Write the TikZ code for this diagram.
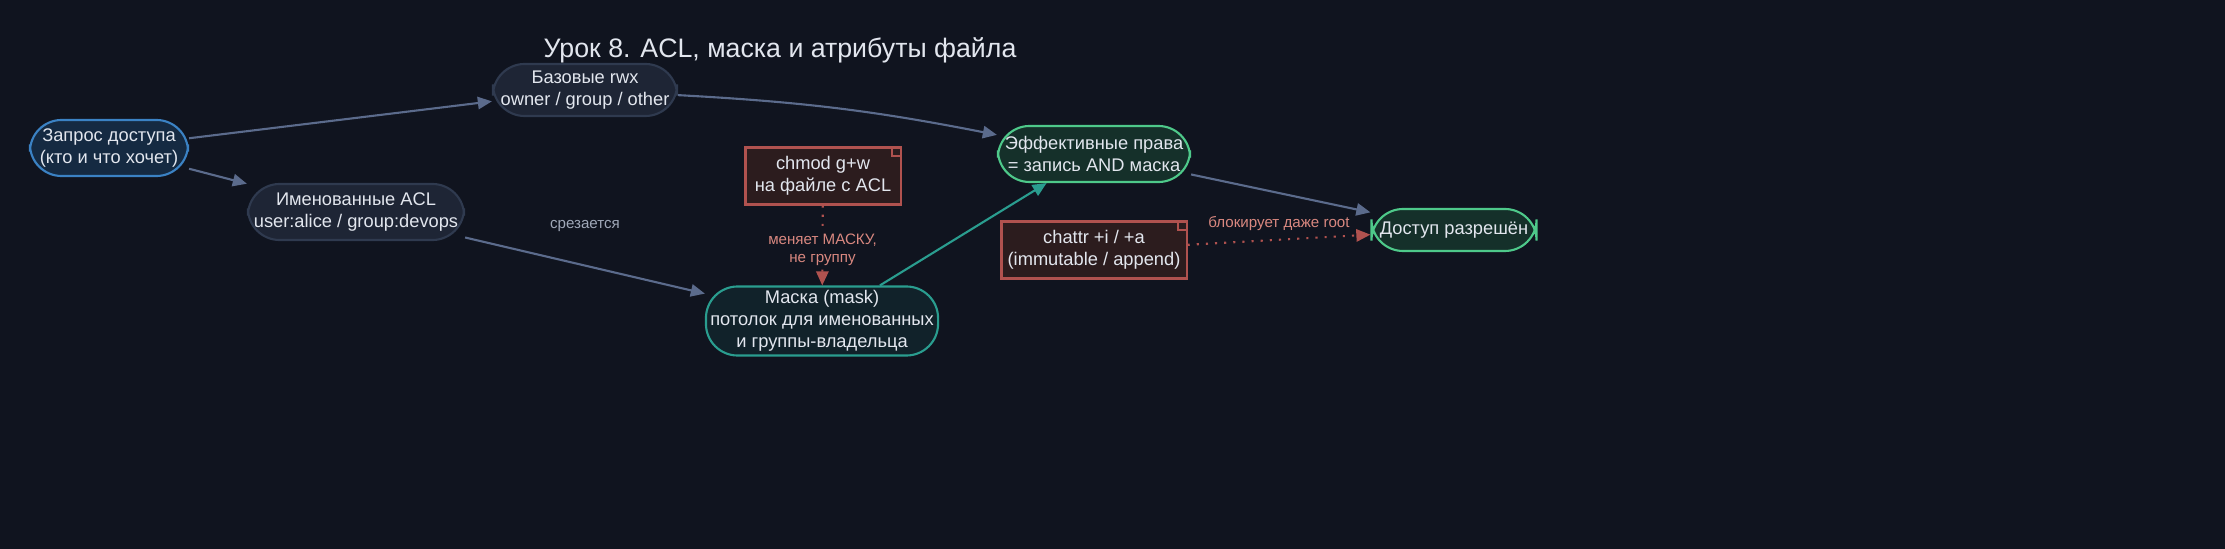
\documentclass[tikz,border=0pt]{standalone}
\usepackage{fontspec}
\setmainfont{Liberation Sans}
\usetikzlibrary{arrows.meta}
\definecolor{bgc}{HTML}{10141F}
\definecolor{edgec}{HTML}{5B6B8C}
\definecolor{txtc}{HTML}{E2E6EE}
\definecolor{redc}{HTML}{B0524F}
\definecolor{redt}{HTML}{D98880}
\definecolor{tealc}{HTML}{2A9D8F}
\definecolor{reqfill}{HTML}{152A42}
\definecolor{reqline}{HTML}{3B82C4}
\definecolor{grayfill}{HTML}{1E2535}
\definecolor{grayline}{HTML}{2F3A4F}
\definecolor{maskfill}{HTML}{11222A}
\definecolor{greenfill}{HTML}{15302A}
\definecolor{greenline}{HTML}{4EC98A}
\definecolor{notefill}{HTML}{2C1C1E}
\definecolor{lblgray}{HTML}{A0A8B8}
\tikzset{
  box/.style={draw, rounded corners=9pt, line width=0.6pt, align=center,
    text=txtc, font=\fontsize{5.2}{6.3}\selectfont, inner sep=0pt},
  notebox/.style={draw=redc, fill=notefill, line width=0.6pt, align=center,
    text=txtc, font=\fontsize{5.2}{6.3}\selectfont, inner sep=0pt},
  flow/.style={draw=edgec, line width=0.6pt, -{Triangle[length=4pt,width=3.5pt]}},
  warn/.style={draw=redc, line width=0.6pt, dotted, -{Triangle[length=4pt,width=3.5pt]}},
  lbl/.style={font=\fontsize{4.3}{5.2}\selectfont, align=center},
}
\begin{document}
\begin{tikzpicture}[x=0.01cm, y=-0.01cm]
\fill[bgc] (0,0) rectangle (2225,549);
\node[text=txtc, font=\fontsize{7.6}{9}\selectfont] (title) at (780,50) {Урок 8. ACL, маска и атрибуты файла};
% nodes
\node[box, fill=reqfill, draw=reqline, minimum width=1.58cm, minimum height=0.56cm] (req) at (109,148) {Запрос доступа\\(кто и что хочет)};
\node[box, fill=grayfill, draw=grayline, minimum width=1.84cm, minimum height=0.52cm] (base) at (585,90) {Базовые rwx\\owner / group / other};
\node[box, fill=grayfill, draw=grayline, minimum width=2.16cm, minimum height=0.56cm] (acl) at (356,212) {Именованные ACL\\user:alice / group:devops};
\node[box, fill=maskfill, draw=tealc, minimum width=2.32cm, minimum height=0.69cm] (mask) at (822,321) {Маска (mask)\\потолок для именованных\\и группы-владельца};
\node[box, fill=greenfill, draw=greenline, minimum width=1.92cm, minimum height=0.56cm] (eff) at (1094,154) {Эффективные права\\= запись AND маска};
\node[box, fill=greenfill, draw=greenline, minimum width=1.65cm, minimum height=0.42cm] (ok) at (1454,230) {Доступ разрешён};
\node[notebox, minimum width=1.55cm, minimum height=0.57cm] (chmod) at (823,176) {chmod g+w\\на файле с ACL};
\node[notebox, minimum width=1.85cm, minimum height=0.57cm] (chattr) at (1094,250) {chattr +i / +a\\(immutable / append)};
% folded corners of the notes
\foreach \n in {chmod, chattr}
  \draw[redc, line width=0.6pt] (\n.north east) ++(-10,0) -- ++(0,10) -- ++(10,0);
% connectors
\draw[flow] (req) -- (base);
\draw[flow] (req) -- (acl);
\draw[flow] (base) to[bend left=4] (eff);
\draw[flow] (acl) -- node[lbl, text=lblgray, above=6pt] {срезается} (mask);
\draw[flow, draw=tealc] (mask) -- (eff);
\draw[flow] (eff) -- (ok);
\draw[warn] (chmod) -- node[lbl, text=redt, fill=bgc, inner sep=1pt, pos=0.55] {меняет МАСКУ,\\не группу} (mask);
\draw[warn] (chattr) -- node[lbl, text=redt, above=-1pt] {блокирует даже root} (ok);
\end{tikzpicture}
\end{document}
